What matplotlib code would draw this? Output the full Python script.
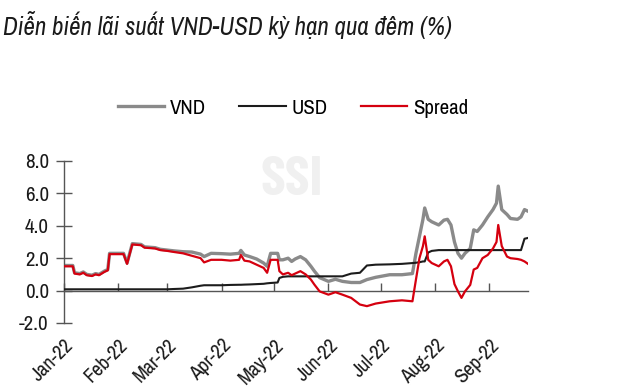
import pandas as pd
import matplotlib
matplotlib.use("Agg")
import matplotlib.pyplot as plt
import matplotlib.dates as mdates

plt.rcParams['font.family'] = ['Archivo Narrow', 'Liberation Sans', 'DejaVu Sans']

# values (%)
dates = ["2022-01-01", "2022-01-06", "2022-01-07", "2022-01-10", "2022-01-12", "2022-01-14",
         "2022-01-17", "2022-01-19", "2022-01-21", "2022-01-24", "2022-01-26", "2022-01-27",
         "2022-02-04", "2022-02-06", "2022-02-09", "2022-02-14", "2022-02-16", "2022-02-22",
         "2022-02-25", "2022-03-01", "2022-03-05", "2022-03-10", "2022-03-15", "2022-03-20",
         "2022-03-22", "2022-03-26", "2022-04-01", "2022-04-06", "2022-04-11", "2022-04-12",
         "2022-04-14", "2022-04-17", "2022-04-21", "2022-04-25", "2022-04-27", "2022-04-29",
         "2022-05-03", "2022-05-04", "2022-05-06", "2022-05-09", "2022-05-11", "2022-05-13",
         "2022-05-16", "2022-05-19", "2022-05-22", "2022-05-24", "2022-05-27", "2022-06-01",
         "2022-06-05", "2022-06-09", "2022-06-14", "2022-06-19", "2022-06-23", "2022-06-28",
         "2022-07-06", "2022-07-13", "2022-07-19", "2022-07-21", "2022-07-23", "2022-07-25",
         "2022-07-26", "2022-07-28", "2022-07-30", "2022-08-03", "2022-08-06", "2022-08-08",
         "2022-08-10", "2022-08-12", "2022-08-14", "2022-08-16", "2022-08-18", "2022-08-21",
         "2022-08-23", "2022-08-25", "2022-08-28", "2022-08-31", "2022-09-03", "2022-09-05",
         "2022-09-06", "2022-09-08", "2022-09-11", "2022-09-13", "2022-09-17", "2022-09-19",
         "2022-09-21", "2022-09-23"]

vnd = [1.55, 1.55, 1.1, 1.05, 1.15, 1.0,
       0.95, 1.05, 1.0, 1.2, 1.3, 2.3,
       2.3, 1.7, 2.9, 2.85, 2.7, 2.65,
       2.55, 2.5, 2.45, 2.4, 2.38, 2.25,
       2.1, 2.3, 2.28, 2.25, 2.3, 2.48,
       2.2, 2.1, 1.95, 1.7, 1.5, 2.3,
       2.3, 1.9, 1.9, 2.0, 1.8, 1.95,
       2.1, 1.9, 1.5, 1.2, 0.8, 0.57,
       0.7, 0.57, 0.5, 0.5, 0.68, 0.82,
       0.98, 0.98, 1.05, 2.3, 3.35, 4.4,
       5.1, 4.4, 4.25, 4.05, 4.35, 4.4,
       4.05, 3.0, 2.3, 2.0, 2.3, 2.6,
       3.75, 3.65, 4.05, 4.55, 5.0, 5.4,
       6.45, 5.0, 4.7, 4.45, 4.4, 4.55,
       5.0, 4.9]

usd = [0.08, 0.08, 0.08, 0.08, 0.08, 0.08,
       0.08, 0.08, 0.08, 0.08, 0.08, 0.08,
       0.08, 0.08, 0.08, 0.08, 0.08, 0.08,
       0.08, 0.08, 0.1, 0.12, 0.2, 0.3,
       0.33, 0.33, 0.33, 0.35, 0.36, 0.36,
       0.37, 0.38, 0.4, 0.42, 0.45, 0.47,
       0.5, 0.78, 0.85, 0.88, 0.88, 0.88,
       0.88, 0.88, 0.88, 0.88, 0.88, 0.88,
       0.88, 0.88, 1.05, 1.1, 1.55, 1.6,
       1.62, 1.65, 1.7, 1.72, 1.75, 1.8,
       1.8, 2.35, 2.45, 2.5, 2.5, 2.5,
       2.5, 2.5, 2.5, 2.5, 2.5, 2.5,
       2.5, 2.5, 2.5, 2.5, 2.5, 2.5,
       2.5, 2.5, 2.5, 2.5, 2.5, 2.5,
       3.2, 3.25]

spread = [1.5, 1.5, 1.05, 1.0, 1.1, 0.95,
          0.9, 1.0, 0.95, 1.15, 1.25, 2.25,
          2.25, 1.65, 2.85, 2.8, 2.65, 2.6,
          2.5, 2.45, 2.38, 2.3, 2.15, 2.0,
          1.74, 1.9, 1.9, 1.85, 1.9, 2.2,
          1.85, 1.8, 1.6, 1.4, 1.1, 1.9,
          1.9, 1.2, 1.0, 1.1, 0.95, 1.05,
          1.2, 1.0, 0.68, 0.37, -0.05, -0.25,
          -0.1, -0.25, -0.45, -0.86, -0.96, -0.8,
          -0.66, -0.6, -0.66, 0.68, 2.0, 2.75,
          3.35, 1.9, 1.7, 1.5, 1.8, 1.9,
          1.5, 0.4, -0.05, -0.45, -0.05, 0.35,
          1.3, 1.4, 2.0, 2.2, 2.6, 3.0,
          4.05, 2.75, 2.1, 2.0, 1.95, 1.9,
          1.8, 1.65]

month_ticks = ["2022-01-01", "2022-02-01", "2022-03-01", "2022-04-01", "2022-05-01",
               "2022-06-01", "2022-07-01", "2022-08-01", "2022-09-01"]

dts = pd.to_datetime(dates)
ticks = pd.to_datetime(month_ticks)

fig = plt.figure(figsize=(6.39, 3.9), dpi=100)
ax = fig.add_axes([0.1002, 0.1718, 0.7261, 0.4154])

ax.plot(dts, vnd, color='#8a8a8a', lw=2.4, label='VND', zorder=2)
ax.plot(dts, usd, color='#1c1c1c', lw=1.5, label='USD', zorder=3)
ax.plot(dts, spread, color='#d5000f', lw=1.6, label='Spread', zorder=4)

ax.set_ylim(-2, 8)
ax.set_yticks([-2, 0, 2, 4, 6, 8])
ax.set_yticklabels(['-2.0', '0.0', '2.0', '4.0', '6.0', '8.0'])
ax.set_xlim(dts[0], dts[-1])

for s in ['top', 'right', 'bottom']:
    ax.spines[s].set_visible(False)
ax.spines['left'].set_color('#555555')
ax.spines['left'].set_linewidth(1.0)
ax.tick_params(axis='y', direction='inout', length=12, width=1.0, color='#555555',
               labelsize=15, labelcolor='#1a1a1a', pad=5)

# month labels at the bottom, rotated
ax.set_xticks(ticks)
ax.xaxis.set_major_formatter(mdates.DateFormatter('%b-%y'))
ax.tick_params(axis='x', length=0, labelsize=14.5, labelcolor='#1a1a1a', pad=9)
for lab in ax.get_xticklabels():
    lab.set_rotation(45)
    lab.set_ha('right')
    lab.set_va('top')
    lab.set_rotation_mode('anchor')

# zero line with month tick marks
zero_ax = ax.secondary_xaxis(0.2)
zero_ax.set_xticks(ticks)
zero_ax.tick_params(axis='x', direction='in', length=6, width=1.0, color='#555555',
                    labelbottom=False)
zero_ax.spines['bottom'].set_color('#555555')
zero_ax.spines['bottom'].set_linewidth(1.0)

# watermark
fig.text(0.457, 0.538, 'SSI', fontsize=40, fontweight='bold', color='#f0f0f0',
         ha='center', va='center', family=['Barlow Condensed', 'Archivo Narrow', 'DejaVu Sans'],
         zorder=0)

fig.text(0.005, 1 - 11 / 390, 'Diễn biến lãi suất VND-USD kỳ hạn qua đêm (%)',
         fontsize=18, style='italic', color='#1a1a1a', ha='left', va='top')

fig.legend(loc='center', bbox_to_anchor=(0.458, 0.723), ncol=3, frameon=False,
           fontsize=15, handlelength=2.25, handletextpad=0.25, columnspacing=1.6)

fig.savefig('out.png', dpi=100)
